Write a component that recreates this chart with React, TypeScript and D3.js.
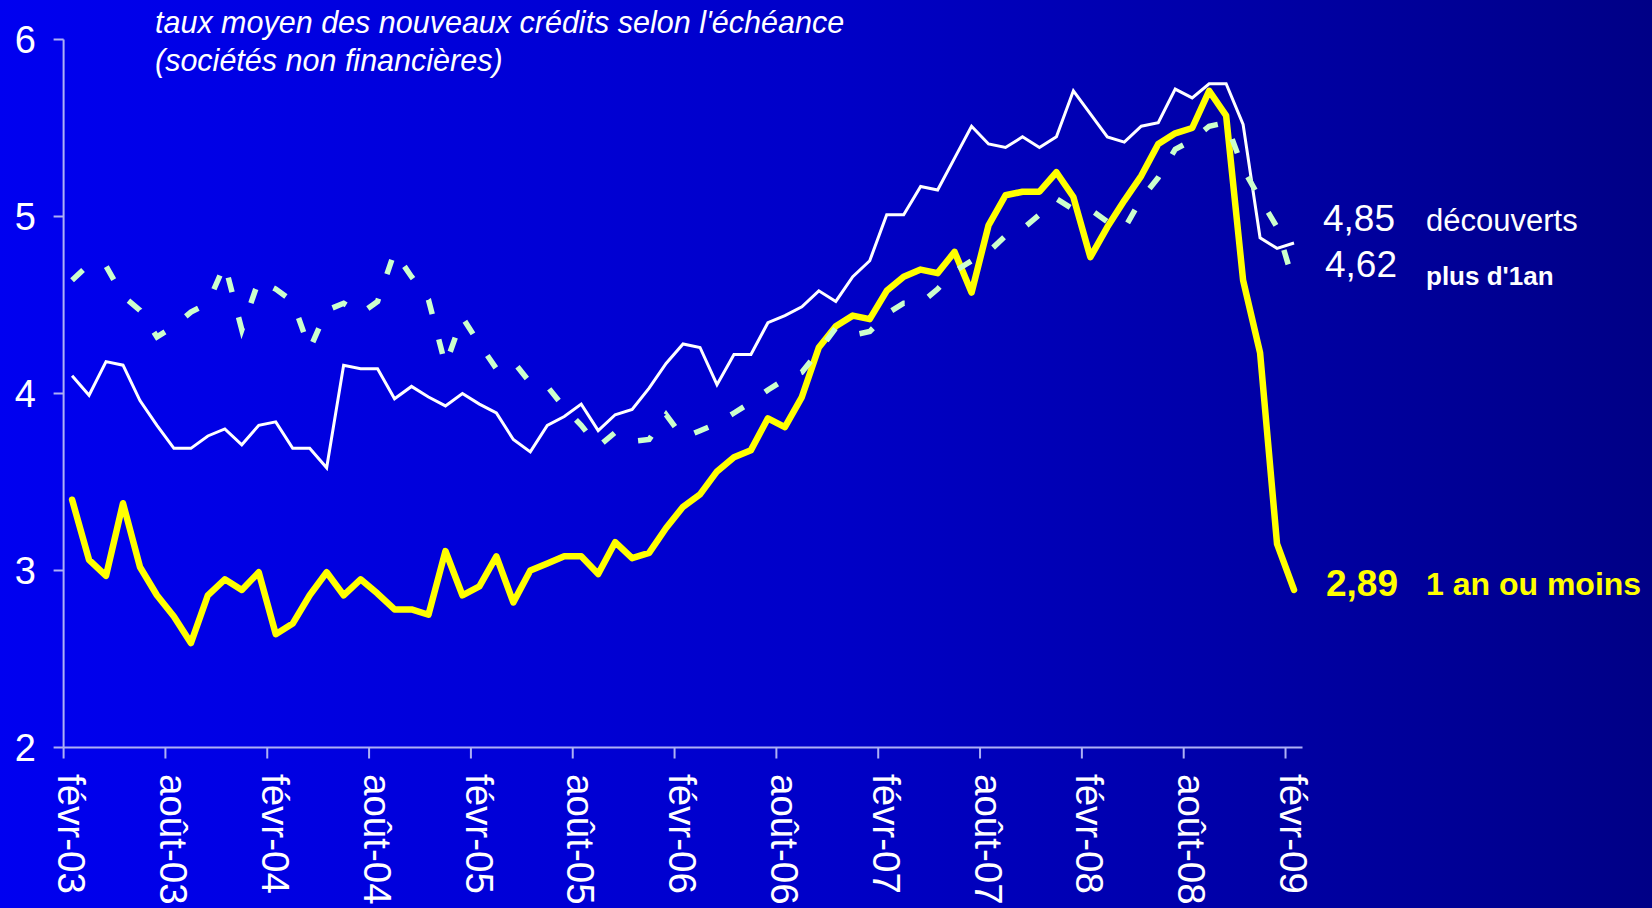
import React from 'react';
import * as d3 from 'd3';

const W = 1652;
const H = 908;

// x-axis tick labels (one every 6 months, Feb 2003 → Feb 2009)
const tickLabels = [
  'févr-03', 'août-03', 'févr-04', 'août-04', 'févr-05', 'août-05', 'févr-06',
  'août-06', 'févr-07', 'août-07', 'févr-08', 'août-08', 'févr-09',
];
const yTicks = [2, 3, 4, 5, 6];

// monthly series, févr-03 … févr-09 (73 months)
const unAnOuMoins = [
  3.40, 3.06, 2.97, 3.38, 3.02, 2.86, 2.74, 2.59, 2.86, 2.95,
  2.89, 2.99, 2.64, 2.70, 2.86, 2.99, 2.86, 2.95, 2.87, 2.78,
  2.78, 2.75, 3.11, 2.86, 2.91, 3.08, 2.82, 3.00, 3.04, 3.08,
  3.08, 2.98, 3.16, 3.07, 3.10, 3.24, 3.36, 3.43, 3.56, 3.64,
  3.68, 3.86, 3.81, 3.98, 4.26, 4.38, 4.44, 4.42, 4.58, 4.66,
  4.70, 4.68, 4.80, 4.57, 4.95, 5.12, 5.14, 5.14, 5.25, 5.11,
  4.77, 4.94, 5.09, 5.23, 5.41, 5.47, 5.50, 5.71, 5.57, 4.64,
  4.23, 3.15, 2.89,
];
const decouverts = [
  4.10, 3.99, 4.18, 4.16, 3.96, 3.82, 3.69, 3.69, 3.76, 3.80,
  3.71, 3.82, 3.84, 3.69, 3.69, 3.58, 4.16, 4.14, 4.14, 3.97,
  4.04, 3.98, 3.93, 4.00, 3.94, 3.89, 3.74, 3.67, 3.82, 3.87,
  3.94, 3.79, 3.88, 3.91, 4.03, 4.17, 4.28, 4.26, 4.05, 4.22,
  4.22, 4.40, 4.44, 4.49, 4.58, 4.52, 4.66, 4.75, 5.01, 5.01,
  5.17, 5.15, 5.33, 5.51, 5.41, 5.39, 5.45, 5.39, 5.45, 5.71,
  5.58, 5.45, 5.42, 5.51, 5.53, 5.72, 5.67, 5.75, 5.75, 5.52,
  4.88, 4.82, 4.85,
];
const plusDUnAn = [
  4.64, 4.73, 4.72, 4.55, 4.47, 4.32, 4.38, 4.46, 4.51, 4.73,
  4.36, 4.64, 4.59, 4.52, 4.25, 4.47, 4.51, 4.45, 4.52, 4.80,
  4.66, 4.53, 4.16, 4.43, 4.28, 4.14, 4.18, 4.06, 4.04, 3.92,
  3.82, 3.70, 3.78, 3.73, 3.74, 3.88, 3.75, 3.79, 3.83, 3.89,
  3.95, 4.02, 4.08, 4.12, 4.24, 4.37, 4.33, 4.35, 4.45, 4.51,
  4.51, 4.59, 4.69, 4.75, 4.80, 4.89, 4.93, 5.01, 5.10, 5.04,
  5.04, 4.97, 4.93, 5.10, 5.22, 5.38, 5.43, 5.51, 5.53, 5.27,
  5.10, 4.94, 4.62,
];

const titleLines = [
  "taux moyen des nouveaux crédits selon l'échéance",
  '(sociétés non financières)',
];

const FONT = "'Liberation Sans', Arial, Helvetica, sans-serif";

const fmt = (v: number) => d3.format('.2f')(v).replace('.', ',');

export default function App() {
  const n = unAnOuMoins.length;
  const x = d3.scaleLinear().domain([0, n]).range([63.6, 1302.5]);
  const y = d3.scaleLinear().domain([2, 6]).range([747.5, 39.5]);
  const line = d3
    .line<number>()
    .x((_, i) => x(i + 0.5))
    .y((v) => y(v));

  const axisColor = '#AEB0F4';

  return (
    <svg
      width={W}
      height={H}
      style={{ position: 'absolute', left: 0, top: 0, display: 'block' }}
      fontFamily={FONT}
    >
      <defs>
        <linearGradient id="bg" x1="0" y1="0" x2="1" y2="0">
          <stop offset="0" stopColor="#0000F0" />
          <stop offset="0.5" stopColor="#0000C8" />
          <stop offset="1" stopColor="#000086" />
        </linearGradient>
      </defs>
      <rect x={0} y={0} width={W} height={H} fill="url(#bg)" />

      {/* title */}
      {titleLines.map((t, i) => (
        <text key={t} x={155} y={33} fill="#fff" fontSize={30.5} fontStyle="italic" dy={i * 38}>
          {t}
        </text>
      ))}

      {/* y axis */}
      <line x1={x(0)} x2={x(0)} y1={y(6)} y2={y(2)} stroke={axisColor} strokeWidth={2} />
      {yTicks.map((t) => (
        <g key={t}>
          <line x1={x(0) - 10} x2={x(0)} y1={y(t)} y2={y(t)} stroke={axisColor} strokeWidth={2} />
          <text x={36} y={y(t)} dy="0.36em" textAnchor="end" fill="#fff" fontSize={38}>
            {t}
          </text>
        </g>
      ))}

      {/* x axis */}
      <line x1={x(0)} x2={x(n)} y1={y(2)} y2={y(2)} stroke={axisColor} strokeWidth={2} />
      {tickLabels.map((lab, k) => (
        <g key={lab + k}>
          <line
            x1={x(k * 6)}
            x2={x(k * 6)}
            y1={y(2)}
            y2={y(2) + 11}
            stroke={axisColor}
            strokeWidth={2}
          />
          <text
            transform={`translate(${x(k * 6 + 0.5)},774) rotate(90)`}
            dy="0.36em"
            textAnchor="start"
            fill="#fff"
            fontSize={38.5}
          >
            {lab}
          </text>
        </g>
      ))}

      {/* series */}
      <path
        d={line(unAnOuMoins) || ''}
        fill="none"
        stroke="#FFFF00"
        strokeWidth={6.5}
        strokeLinejoin="round"
        strokeLinecap="round"
      />
      <path
        d={line(decouverts) || ''}
        fill="none"
        stroke="#FFFFFF"
        strokeWidth={3}
        strokeLinejoin="miter"
      />
      <path
        d={line(plusDUnAn) || ''}
        fill="none"
        stroke="#CCFFCC"
        strokeWidth={5.5}
        strokeDasharray="15 26"
        strokeLinecap="butt"
      />

      {/* end labels */}
      <text x={1323} y={231} fill="#fff" fontSize={37}>
        {fmt(decouverts[n - 1])}
      </text>
      <text x={1426} y={231} fill="#fff" fontSize={31}>
        découverts
      </text>
      <text x={1325} y={277} fill="#fff" fontSize={37}>
        {fmt(plusDUnAn[n - 1])}
      </text>
      <text x={1426} y={285} fill="#fff" fontSize={26} fontWeight="bold">
        plus d'1an
      </text>
      <text x={1326} y={596} fill="#FFFF00" fontSize={37} fontWeight="bold">
        {fmt(unAnOuMoins[n - 1])}
      </text>
      <text x={1426} y={595} fill="#FFFF00" fontSize={32} fontWeight="bold">
        1 an ou moins
      </text>
    </svg>
  );
}
